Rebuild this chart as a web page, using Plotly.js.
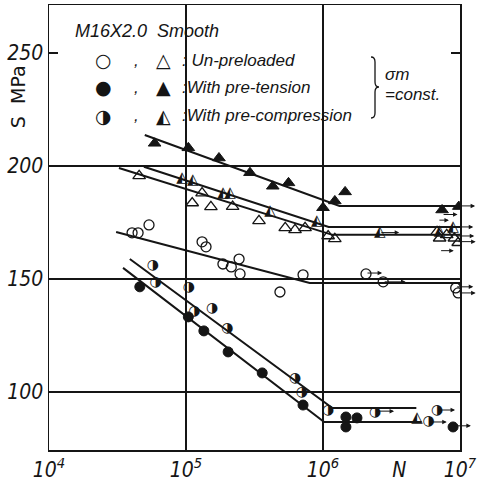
<!DOCTYPE html>
<html><head><meta charset="utf-8">
<script src="https://cdn.plot.ly/plotly-3.0.1.min.js"></script>
<style>body{margin:0;background:#fff}</style>
</head><body><div id="chart" style="width:479px;height:481px"></div>
<script>
// ---- data (N = cycles, S = stress amplitude MPa) ----
const triTensionN = [5.9e4, 1.04e5, 1.74e5, 2.93e5, 4.3e5, 5.6e5, 1.0e6, 1.22e6, 1.45e6, 7.4e6, 9.8e6];
const triTensionS = [210, 208, 203.5, 197, 191, 192.5, 181.5, 184.5, 188.5, 180.5, 182];
const triCompN = [9.35e4, 1.12e5, 1.86e5, 2.1e5, 4.1e5, 9.0e5, 2.6e6, 4.85e6, 7.1e6, 8.9e6];
const triCompS = [194.7, 193.8, 188, 188, 180, 175.5, 170.5, 88.5, 171, 173];
const triOpenN = [4.55e4, 1.11e5, 1.31e5, 1.52e5, 2.19e5, 3.41e5, 5.3e5, 6.25e5, 7.4e5, 1.09e6, 1.22e6, 6.8e6, 7.1e6, 8.0e6, 9.1e6, 9.7e6];
const triOpenS = [195.6, 183.6, 188, 181.9, 182, 175.7, 172.6, 171.7, 172.6, 169, 167.7, 170.8, 168, 169.5, 168, 166];
const circOpenN = [4.04e4, 4.47e4, 5.37e4, 1.31e5, 1.4e5, 1.86e5, 2.14e5, 2.44e5, 2.48e5, 4.85e5, 7.15e5, 2.06e6, 2.75e6, 9.3e6, 9.7e6];
const circOpenS = [170.4, 170.4, 173.9, 166.4, 164.2, 156.6, 155.3, 158.8, 152.2, 144.2, 151.8, 152.2, 148.7, 146, 143.8];
const circCompN = [5.74e4, 6.0e4, 1.05e5, 1.15e5, 1.55e5, 2.0e5, 6.25e5, 7.0e5, 1.09e6, 2.4e6, 5.9e6, 6.8e6];
const circCompS = [155.8, 148.2, 146, 135.8, 136.7, 127.9, 105.8, 99.6, 92.0, 91.1, 86.7, 92.0];
const circTensionN = [4.6e4, 1.04e5, 1.35e5, 2.03e5, 3.6e5, 7.15e5, 1.47e6, 1.47e6, 1.77e6, 8.9e6];
const circTensionS = [146.5, 133.2, 127, 117.7, 108.4, 94.2, 88.9, 84.5, 88.5, 84.5];
// fitted S-N lines (knee + endurance limit)
const lineTriTensionN = [5.0e4, 1.32e6, 1.0e7];   const lineTriTensionS = [213.7, 182.3, 182.3];
const lineTriCompN = [4.93e4, 1.1e6, 1.0e7];      const lineTriCompS = [199.6, 173, 173];
const lineTriOpenN = [3.24e4, 1.17e6, 1.0e7];     const lineTriOpenS = [199.1, 169.5, 169.5];
const lineCircOpenN = [3.09e4, 8.0e5, 1.0e7];     const lineCircOpenS = [170.8, 148.2, 148.2];
const lineCircCompN = [3.89e4, 1.17e6, 4.8e6];    const lineCircCompS = [158.8, 92.9, 92.9];
const lineCircTensionN = [3.47e4, 1.02e6, 5.25e6]; const lineCircTensionS = [154.9, 86.7, 86.7];
// run-out arrows (from N, to N, S)
const arrowFromN = [1.0e7, 7.4e6, 6.9e6, 2.6e6, 9.1e6, 9.1e6, 9.5e6, 7.1e6, 2.06e6, 2.75e6, 9.3e6, 9.7e6, 2.4e6, 6.8e6, 5.9e6, 8.9e6];
const arrowToN   = [1.29e7, 9.6e6, 8.3e6, 3.6e6, 1.25e7, 1.27e7, 1.3e7, 9.0e6, 2.7e6, 4.0e6, 1.25e7, 1.3e7, 3.3e6, 9.2e6, 8.0e6, 1.2e7];
const arrowS     = [182.3, 178.5, 176, 170.5, 173, 169, 166.5, 162.5, 152.6, 148.7, 146.5, 143.8, 91.5, 92.0, 86.7, 85.0];
const yTickVals = [100, 150, 200, 250];
const xTickVals = [1e4, 1e5, 1e6, 3.6e6, 1e7];
const xTickText = ['10<sup>4</sup>', '10<sup>5</sup>', '10<sup>6</sup>', 'N', '10<sup>7</sup>'];

const K = '#151515';
function line(x, y) { return {x, y, mode: 'lines', line: {color: K, width: 2}, hoverinfo: 'skip'}; }
function mk(x, y, symbol, size, lw) { return {x, y, mode: 'markers', marker: {symbol, size, color: K, line: {color: K, width: lw}}}; }
function glyph(x, y, ch, size) { return {x, y, mode: 'text', text: x.map(() => ch), textposition: 'middle center', textfont: {family: 'DejaVu Sans', size, color: K}}; }

const traces = [
  line(lineTriTensionN, lineTriTensionS), line(lineTriCompN, lineTriCompS), line(lineTriOpenN, lineTriOpenS),
  line(lineCircOpenN, lineCircOpenS), line(lineCircCompN, lineCircCompS), line(lineCircTensionN, lineCircTensionS),
  mk(triTensionN, triTensionS, 'triangle-up', 11, 1),
  mk(triOpenN, triOpenS, 'triangle-up-open', 11, 1.3),
  mk(circOpenN, circOpenS, 'circle-open', 10, 1.3),
  mk(circTensionN, circTensionS, 'circle', 10, 1),
  glyph(triCompN, triCompS, '◭', 15),
  glyph(circCompN, circCompS, '◑', 14)
];

const annotations = arrowFromN.map((f, i) => ({
  x: Math.log10(arrowToN[i]), y: arrowS[i], ax: Math.log10(f), ay: arrowS[i],
  xref: 'x', yref: 'y', axref: 'x', ayref: 'y', text: '', showarrow: true,
  arrowhead: 2, arrowsize: 0.9, arrowwidth: 1, arrowcolor: K, standoff: 0, startstandoff: 0
}));
const lf = {family: 'Liberation Sans, DejaVu Sans', size: 17, color: K, style: 'italic'};
const sf = {family: 'DejaVu Sans', size: 19, color: K};
function pa(x, y, text, font, xanchor) { return {xref: 'paper', yref: 'paper', x, y, text, font, showarrow: false, xanchor: xanchor || 'left', yanchor: 'middle'}; }
annotations.push(
  pa(0.058, 0.9416, 'M16X2.0  Smooth', {family: 'Liberation Sans, DejaVu Sans', size: 18, color: K, style: 'italic'}),
  pa(0.1314, 0.8764, '○', sf, 'center'), pa(0.2141, 0.8764, ',', lf, 'center'), pa(0.2774, 0.8764, '△', sf, 'center'), pa(0.3187, 0.8764, ': Un-preloaded', lf),
  pa(0.1314, 0.8157, '●', sf, 'center'), pa(0.2141, 0.8157, ',', lf, 'center'), pa(0.2774, 0.8157, '▲', sf, 'center'), pa(0.3187, 0.8157, ':With pre-tension', lf),
  pa(0.1314, 0.7506, '◑', sf, 'center'), pa(0.2141, 0.7506, ',', lf, 'center'), pa(0.2774, 0.7506, '◭', sf, 'center'), pa(0.3187, 0.7506, ':With pre-compression', lf),
  pa(0.8127, 0.8427, 'σm', lf), pa(0.8127, 0.7978, '=const.', lf),
  {xref: 'paper', yref: 'paper', x: -0.0754, y: 0.793, text: 'S  MPa', textangle: -90, showarrow: false,
   font: {family: 'DejaVu Sans', size: 19, color: K}, xanchor: 'center', yanchor: 'middle'}
);
const tf = {family: 'Liberation Sans Narrow, DejaVu Sans Condensed, Liberation Sans', size: 21, color: K, style: 'italic'};
const layout = {
  width: 479, height: 481, margin: {l: 49, r: 19, t: 5, b: 31},
  paper_bgcolor: '#fff', plot_bgcolor: '#fff', showlegend: false,
  xaxis: {type: 'log', range: [4, 7], tickmode: 'array', tickvals: xTickVals, ticktext: xTickText, ticks: '',
    showgrid: false, zeroline: false, showline: true, mirror: true, linecolor: K, linewidth: 1.5, tickfont: tf,
    minor: {tickmode: 'array', tickvals: [1e5, 1e6], showgrid: true, gridcolor: K, gridwidth: 1.2, ticks: ''}},
  yaxis: {range: [74.3, 271.2], tickmode: 'array', tickvals: yTickVals, ticks: 'inside', ticklen: 9, tickcolor: K, tickwidth: 1.2,
    showgrid: false, zeroline: false, showline: true, mirror: 'ticks', linecolor: K, linewidth: 1.5, tickfont: tf,
    minor: {tickmode: 'array', tickvals: [100, 150, 200], showgrid: true, gridcolor: K, gridwidth: 1.2, ticks: ''}},
  shapes: [{type: 'path', xref: 'paper', yref: 'paper', line: {color: K, width: 1.3},
    path: 'M 0.7835 0.8831 Q 0.7932 0.8831 0.7932 0.8719 L 0.7932 0.8270 Q 0.7932 0.8157 0.8029 0.8157 Q 0.7932 0.8157 0.7932 0.8045 L 0.7932 0.7573 Q 0.7932 0.7461 0.7835 0.7461'}],
  annotations
};
Plotly.newPlot('chart', traces, layout, {displayModeBar: false, staticPlot: true});
</script></body></html>
